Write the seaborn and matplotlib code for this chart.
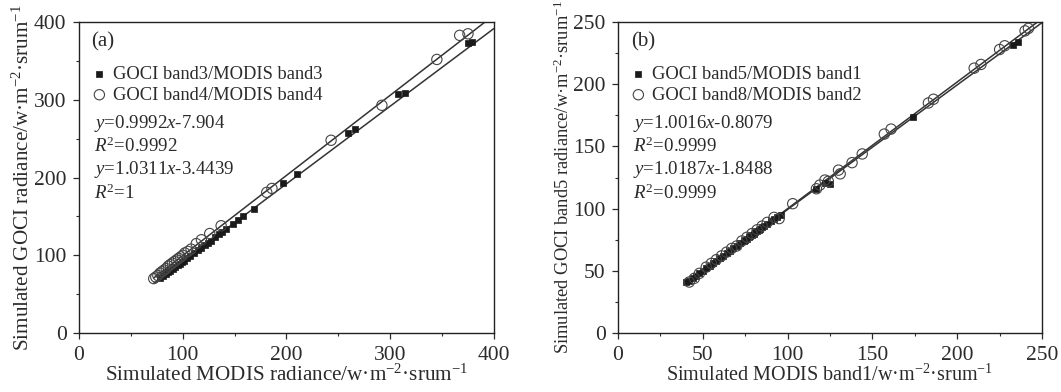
import numpy as np
import matplotlib
matplotlib.use("Agg")
import matplotlib.pyplot as plt
import seaborn as sns

# ---------------- data ----------------
a_b3_x = [78, 81, 84, 86, 88, 91, 93, 95, 97, 99, 101, 104, 107, 111, 115, 118, 121, 124, 127, 131,
          135, 138, 142, 148, 153, 158, 169, 197, 210, 259, 266, 308, 314, 375, 379]
a_b3_y = [71, 73, 76, 78, 80, 83, 85, 87, 89, 91, 93, 96, 99, 103, 107, 110, 113, 116, 119, 123,
          127, 130, 134, 140, 145, 150, 160, 193, 205, 258, 263, 308, 309, 373, 374]
a_b4_x = [72, 74, 76, 78, 80, 82, 84, 86, 88, 90, 92, 94, 96, 98, 100, 102, 105, 108, 113, 118,
          126, 137, 181, 186, 243, 292, 345, 367, 375]
a_b4_y = [70, 72, 74, 77, 79, 81, 83, 86, 88, 90, 92, 94, 96, 98, 100, 103, 105, 108, 115, 120,
          128, 138, 181, 186, 248, 293, 352, 383, 385]

b_b5_x = [40, 42, 44, 46, 48, 50, 52, 54, 56, 58, 60, 62, 64, 66, 68, 70, 72, 74, 75, 76, 77, 78,
          79, 80, 81, 82, 83, 84, 85, 86, 88, 90, 92, 94, 96, 117, 122, 125, 174, 233, 236]
b_b5_y = [41, 42, 44, 46, 48, 50, 52, 54, 56, 58, 60, 62, 64, 66, 68, 70, 72, 74, 75, 76, 77, 78,
          79, 80, 81, 82, 83, 84, 85, 86, 88, 90, 92, 93, 95, 116, 121, 120, 174, 232, 234]
b_b8_x = [42, 45, 48, 52, 55, 58, 61, 64, 67, 70, 73, 76, 79, 82, 85, 88, 92, 95, 103, 117, 119,
          122, 124, 130, 131, 138, 144, 157, 161, 183, 186, 210, 214, 225, 228, 240, 242]
b_b8_y = [41, 44, 48, 53, 56, 59, 62, 65, 68, 70, 74, 77, 80, 83, 86, 89, 93, 92, 104, 116, 119,
          123, 122, 131, 128, 137, 144, 160, 164, 185, 188, 213, 216, 228, 231, 243, 245]

# regression coefficients (slope, intercept)
a_fit3 = (0.9992, -7.904)
a_fit4 = (1.0311, -3.4439)
b_fit5 = (1.0016, -0.8079)
b_fit8 = (1.0187, -1.8488)

a_labels = ["GOCI band3/MODIS band3", "GOCI band4/MODIS band4"]
b_labels = ["GOCI band5/MODIS band1", "GOCI band8/MODIS band2"]
a_eq = [r"$\mathit{y}$=0.9992$\mathit{x}$-7.904", r"$\mathit{R}^{2}$=0.9992",
        r"$\mathit{y}$=1.0311$\mathit{x}$-3.4439", r"$\mathit{R}^{2}$=1"]
b_eq = [r"$\mathit{y}$=1.0016$\mathit{x}$-0.8079", r"$\mathit{R}^{2}$=0.9999",
        r"$\mathit{y}$=1.0187$\mathit{x}$-1.8488", r"$\mathit{R}^{2}$=0.9999"]

# ---------------- style ----------------
sns.set_theme(style="ticks")
plt.rcParams["font.family"] = ["Liberation Serif", "DejaVu Serif"]
plt.rcParams["mathtext.fontset"] = "custom"
plt.rcParams["mathtext.rm"] = "Liberation Serif"
plt.rcParams["mathtext.it"] = "Liberation Serif:italic"
plt.rcParams["mathtext.default"] = "regular"

TXT = "#2b2b2b"
fig = plt.figure(figsize=(10.61, 3.92), dpi=100)
axA = fig.add_axes([0.0745, 0.1505, 0.391, 0.793])
axB = fig.add_axes([0.5825, 0.1505, 0.3996, 0.793])


def panel(ax, x1, y1, x2, y2, fit1, fit2, lim, major, minor, labels, eqs, tag,
          xlabel, ylabel, xmin, xlsize, ylsize):
    for (s, b) in (fit1, fit2):
        xl = np.array([xmin, lim])
        sns.lineplot(x=xl, y=s * xl + b, ax=ax, color="#333333", lw=1.1, zorder=2)
    sns.scatterplot(x=x1, y=y1, ax=ax, marker="s", s=22, color="#1a1a1a",
                    edgecolor="#1a1a1a", linewidth=0.5, label=labels[0], zorder=3)
    sns.scatterplot(x=x2, y=y2, ax=ax, marker="o", s=55, facecolor="none",
                    edgecolor="#444444", linewidth=0.8, label=labels[1], zorder=3)
    ax.set_xlim(0, lim)
    ax.set_ylim(0, lim)
    ax.set_xticks(np.arange(0, lim + 1, major))
    ax.set_yticks(np.arange(0, lim + 1, major))
    ax.set_xticks(np.arange(0, lim + 1, minor), minor=True)
    ax.set_yticks(np.arange(0, lim + 1, minor), minor=True)
    ax.tick_params(which="major", direction="out", length=4, width=0.9,
                   labelsize=15.5, colors=TXT, pad=5)
    ax.tick_params(which="minor", direction="out", length=2.5, width=0.8, colors=TXT)
    for sp in ax.spines.values():
        sp.set_visible(True)
        sp.set_color("#222222")
        sp.set_linewidth(1.0)
    ax.set_xlabel(xlabel, fontsize=xlsize, color=TXT, labelpad=0)
    ax.set_ylabel(ylabel, fontsize=ylsize, color=TXT, labelpad=0)
    ax.text(0.03, 0.935, tag, transform=ax.transAxes, fontsize=15, color=TXT,
            va="center", ha="left")
    ax.legend(loc="upper left", bbox_to_anchor=(0.0, 0.895), frameon=False,
              fontsize=13.3, handletextpad=0.25, labelspacing=0.2,
              borderaxespad=0.2, handlelength=1.0, labelcolor=TXT)
    for i, t in enumerate(eqs):
        ax.text(0.035, 0.675 - i * 0.075, t, transform=ax.transAxes,
                fontsize=13.6, color=TXT, va="center", ha="left")


panel(axA, a_b3_x, a_b3_y, a_b4_x, a_b4_y, a_fit3, a_fit4, 400, 100, 50, a_labels, a_eq, "(a)",
      "Simulated MODIS radiance/w·m$^{-2}$·srum$^{-1}$",
      "Simulated GOCI radiance/w·m$^{-2}$·srum$^{-1}$", 72, 15.2, 15.2)
panel(axB, b_b5_x, b_b5_y, b_b8_x, b_b8_y, b_fit5, b_fit8, 250, 50, 25, b_labels, b_eq, "(b)",
      "Simulated MODIS band1/w·m$^{-2}$·srum$^{-1}$",
      "Simulated GOCI band5 radiance/w·m$^{-2}$·srum$^{-1}$", 40, 14.5, 13.3)

fig.savefig("out.png", dpi=100, facecolor="white")
